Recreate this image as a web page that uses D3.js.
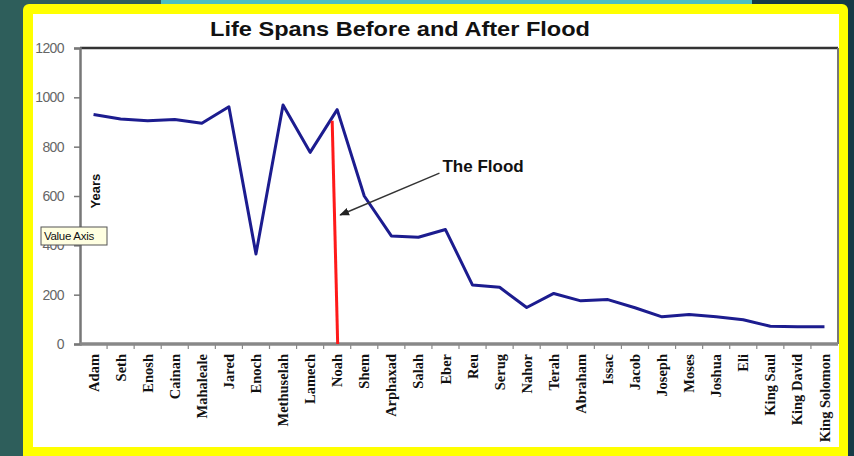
<!DOCTYPE html>
<html>
<head>
<meta charset="utf-8">
<script src="https://cdn.jsdelivr.net/npm/d3@7"></script>
<style>
  html, body { margin: 0; padding: 0; background: #2e5e5b; }
  svg { display: block; }
</style>
</head>
<body>
<svg id="chart" width="854" height="456"></svg>
<script>
// Life spans (years) of biblical figures, in order
const categories = ["Adam", "Seth", "Enosh", "Cainan", "Mahaleale", "Jared", "Enoch",
  "Methuselah", "Lamech", "Noah", "Shem", "Arphaxad", "Salah", "Eber", "Reu", "Serug",
  "Nahor", "Terah", "Abraham", "Issac", "Jacob", "Joseph", "Moses", "Joshua", "Eli",
  "King Saul", "King David", "King Solomon"];
const lifespans = [930, 912, 905, 910, 895, 962, 365, 969, 777, 950, 600, 438, 433, 464,
  239, 230, 148, 205, 175, 180, 147, 110, 120, 110, 98, 72, 70, 70];
const yTicks = [0, 200, 400, 600, 800, 1000, 1200];
const floodAt = "Noah";

const svg = d3.select("#chart");
const W = 854, H = 456;

// slide background and yellow frame
svg.append("rect").attr("width", W).attr("height", H).attr("fill", "#2e5e5b");
svg.append("rect").attr("x", 752).attr("y", 0).attr("width", W - 752).attr("height", H).attr("fill", "#163b46");
svg.append("rect").attr("x", 161).attr("y", 0).attr("width", 752 - 161).attr("height", 4).attr("fill", "#4bbfc0");
svg.append("rect").attr("x", 23).attr("y", 4).attr("width", 825).attr("height", 480).attr("rx", 6).attr("fill", "#ffff00");
svg.append("rect").attr("x", 33).attr("y", 14).attr("width", 806).attr("height", 433).attr("fill", "#ffffff");

const plot = { left: 80, right: 838, top: 48, bottom: 344 };

const x = d3.scaleBand().domain(categories).range([plot.left, plot.right]);
const y = d3.scaleLinear().domain([0, 1200]).range([plot.bottom, plot.top]);
const cx = d => x(d) + x.bandwidth() / 2;

// title
svg.append("text")
  .attr("x", 210).attr("y", 36)
  .attr("textLength", 380).attr("lengthAdjust", "spacingAndGlyphs")
  .attr("font-family", "Liberation Sans, Arial, sans-serif")
  .attr("font-weight", "bold").attr("font-size", 21)
  .attr("fill", "#111")
  .text("Life Spans Before and After Flood");

// plot area border (top and right)
svg.append("line").attr("x1", plot.left).attr("x2", plot.right)
  .attr("y1", plot.top).attr("y2", plot.top)
  .attr("stroke", "#333").attr("stroke-width", 2.5);
svg.append("line").attr("x1", plot.right).attr("x2", plot.right)
  .attr("y1", plot.top).attr("y2", plot.bottom)
  .attr("stroke", "#777").attr("stroke-width", 2);

// value axis
const yAxis = svg.append("g")
  .attr("transform", `translate(${plot.left},0)`)
  .call(d3.axisLeft(y).tickValues(yTicks).tickSize(6).tickPadding(10).tickFormat(d3.format("d")));
yAxis.select(".domain").attr("stroke", "#777").attr("stroke-width", 2.5);
yAxis.selectAll(".tick line").attr("stroke", "#777").attr("stroke-width", 1.5);
yAxis.selectAll(".tick text")
  .attr("font-family", "Liberation Sans, Arial, sans-serif")
  .attr("font-size", 14).attr("fill", "#666")
  .attr("letter-spacing", -0.6);

// category axis
const xAxis = svg.append("g").attr("transform", `translate(0,${plot.bottom})`);
xAxis.append("line").attr("x1", plot.left).attr("x2", plot.right)
  .attr("stroke", "#888").attr("stroke-width", 3.5);
xAxis.selectAll("line.tick")
  .data(categories.slice(1))
  .join("line").attr("class", "tick")
  .attr("x1", d => x(d)).attr("x2", d => x(d))
  .attr("y1", 1).attr("y2", 5)
  .attr("stroke", "#888").attr("stroke-width", 1.2);
xAxis.selectAll("text.label")
  .data(categories)
  .join("text").attr("class", "label")
  .attr("transform", d => `translate(${cx(d)},10) rotate(-90)`)
  .attr("text-anchor", "end").attr("dy", "0.35em")
  .attr("font-family", "Liberation Serif, Times New Roman, serif")
  .attr("font-weight", "bold").attr("font-size", 14.5)
  .attr("fill", "#111")
  .text(d => d);

// axis title
svg.append("text")
  .attr("transform", `translate(100,${y(620)}) rotate(-90)`)
  .attr("text-anchor", "middle")
  .attr("font-family", "Liberation Sans, Arial, sans-serif")
  .attr("font-weight", "bold").attr("font-size", 13)
  .attr("fill", "#111")
  .text("Years");

// life span line
const line = d3.line().x((d, i) => cx(categories[i])).y(d => y(d));
svg.append("path")
  .datum(lifespans)
  .attr("d", line)
  .attr("fill", "none")
  .attr("stroke", "#1c1c8f")
  .attr("stroke-width", 3)
  .attr("stroke-linejoin", "round");

// flood marker
const fx = cx(floodAt);
svg.append("line")
  .attr("x1", fx - 5).attr("y1", y(905))
  .attr("x2", fx + 0.5).attr("y2", y(0))
  .attr("stroke", "#ff1a1a").attr("stroke-width", 3);

// annotation arrow and label
svg.append("defs").append("marker")
  .attr("id", "arrowhead")
  .attr("viewBox", "0 0 10 10").attr("refX", 9).attr("refY", 5)
  .attr("markerWidth", 7).attr("markerHeight", 7)
  .attr("orient", "auto")
  .append("path").attr("d", "M0,1 L10,5 L0,9 Z").attr("fill", "#222");
svg.append("line")
  .attr("x1", cx("Eber") - 6).attr("y1", y(693))
  .attr("x2", fx + 3).attr("y2", y(523))
  .attr("stroke", "#333").attr("stroke-width", 1.4)
  .attr("marker-end", "url(#arrowhead)");
svg.append("text")
  .attr("x", cx("Eber") - 3).attr("y", y(696))
  .attr("font-family", "Liberation Sans, Arial, sans-serif")
  .attr("font-weight", "bold").attr("font-size", 17)
  .attr("fill", "#111")
  .text("The Flood");

// hover tip over the value axis
const tip = svg.append("g").attr("transform", "translate(41,227)");
tip.append("rect").attr("width", 66).attr("height", 18)
  .attr("fill", "#ffffe1").attr("stroke", "#555").attr("stroke-width", 1);
tip.append("text").attr("x", 3).attr("y", 13)
  .attr("font-family", "Liberation Sans, Arial, sans-serif")
  .attr("font-size", 11.5).attr("fill", "#111")
  .attr("letter-spacing", -0.3)
  .text("Value Axis");
</script>
</body>
</html>
